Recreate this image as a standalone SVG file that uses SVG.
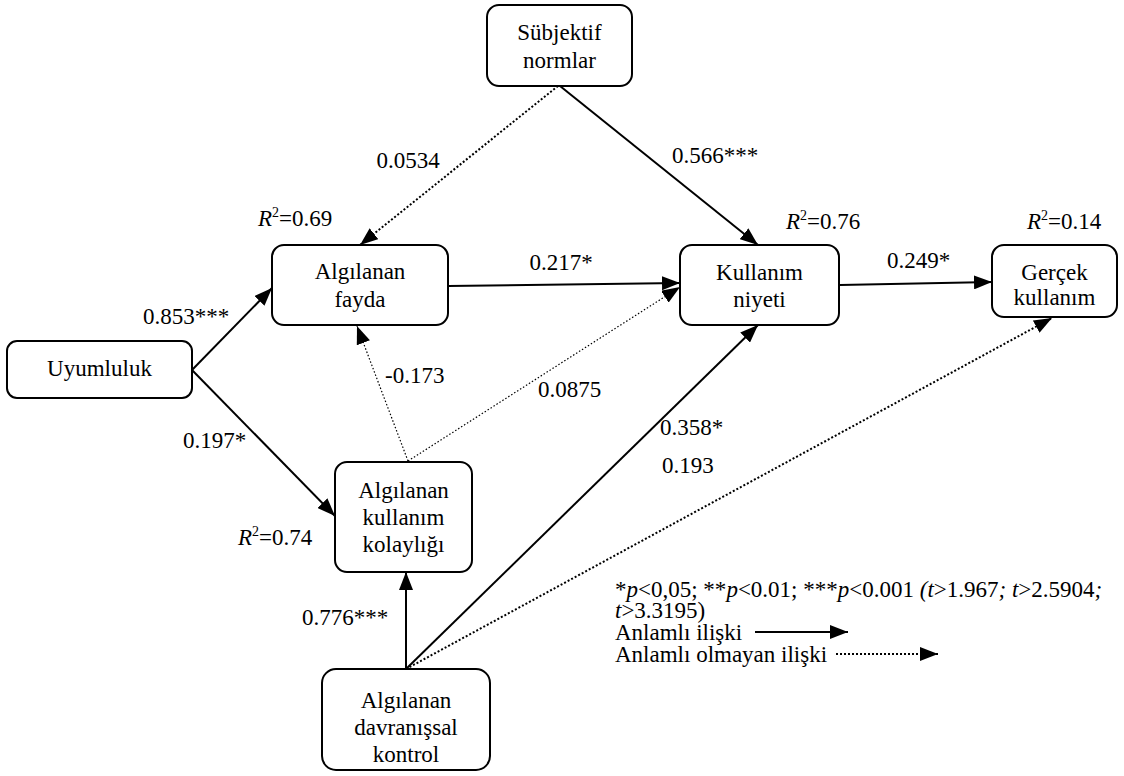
<svg xmlns="http://www.w3.org/2000/svg" width="1124" height="776" viewBox="0 0 1124 776">
<style>
.node rect{fill:#fff;stroke:#000;stroke-width:2}
.c{text-anchor:middle}
.sol{stroke:#000;stroke-width:2;fill:none}
.dot{stroke:#000;stroke-width:2;stroke-dasharray:2 2;fill:none}
.dotthin{stroke:#000;stroke-width:1.2;stroke-dasharray:1.5 2;fill:none}
.it{font-style:italic}
.sup{font-size:14px}
</style>
<defs>
<marker id="ah" markerUnits="userSpaceOnUse" markerWidth="18" markerHeight="14" viewBox="0 0 18 14" refX="18" refY="7" orient="auto">
<path d="M0,0 L18,7 L0,14 z" fill="#000"/>
</marker>
</defs>
<g id="connectors">
<line class="dot" x1="558" y1="86" x2="360" y2="245" marker-end="url(#ah)"/>
<line class="sol" x1="560" y1="86" x2="758" y2="245" marker-end="url(#ah)"/>
<line class="sol" x1="192" y1="370" x2="272" y2="288" marker-end="url(#ah)"/>
<line class="sol" x1="192" y1="370" x2="335" y2="516" marker-end="url(#ah)"/>
<line class="sol" x1="448" y1="286" x2="680" y2="283" marker-end="url(#ah)"/>
<line class="sol" x1="840" y1="285" x2="992" y2="282" marker-end="url(#ah)"/>
<line class="dotthin" x1="408" y1="461" x2="357" y2="326" marker-end="url(#ah)"/>
<line class="dotthin" x1="408" y1="461" x2="680" y2="287" marker-end="url(#ah)"/>
<line class="sol" x1="406" y1="669" x2="406" y2="572" marker-end="url(#ah)"/>
<line class="sol" x1="406" y1="669" x2="758" y2="325" marker-end="url(#ah)"/>
<line class="dot" x1="406" y1="669" x2="1052" y2="318" marker-end="url(#ah)"/>
<line class="sol" x1="755" y1="632" x2="848" y2="632" marker-end="url(#ah)"/>
<line class="dot" x1="836" y1="654" x2="938" y2="654" marker-end="url(#ah)"/>
</g>
<g id="sn" class="node"><rect x="487" y="5" width="145" height="81" rx="12"/><text class="c" x="559.5" y="40" style="font-family:'Liberation Serif',serif;font-size:23px">Sübjektif</text><text class="c" x="559.5" y="68" style="font-family:'Liberation Serif',serif;font-size:23px">normlar</text></g>
<g id="af" class="node"><rect x="272" y="245" width="176" height="80" rx="12"/><text class="c" x="360" y="279" style="font-family:'Liberation Serif',serif;font-size:23px">Algılanan</text><text class="c" x="360" y="307" style="font-family:'Liberation Serif',serif;font-size:23px">fayda</text></g>
<g id="kn" class="node"><rect x="680" y="245" width="159" height="80" rx="12"/><text class="c" x="759.5" y="280" style="font-family:'Liberation Serif',serif;font-size:23px">Kullanım</text><text class="c" x="759.5" y="307" style="font-family:'Liberation Serif',serif;font-size:23px">niyeti</text></g>
<g id="gk" class="node"><rect x="992" y="245" width="125" height="72" rx="12"/><text class="c" x="1054.5" y="280" style="font-family:'Liberation Serif',serif;font-size:23px">Gerçek</text><text class="c" x="1054.5" y="305" style="font-family:'Liberation Serif',serif;font-size:23px">kullanım</text></g>
<g id="uy" class="node"><rect x="7" y="341" width="185" height="57" rx="10"/><text class="c" x="99.5" y="376" style="font-family:'Liberation Serif',serif;font-size:23px">Uyumluluk</text></g>
<g id="akk" class="node"><rect x="335" y="462" width="137" height="110" rx="12"/><text class="c" x="403.5" y="498" style="font-family:'Liberation Serif',serif;font-size:23px">Algılanan</text><text class="c" x="403.5" y="525" style="font-family:'Liberation Serif',serif;font-size:23px">kullanım</text><text class="c" x="403.5" y="552" style="font-family:'Liberation Serif',serif;font-size:23px">kolaylığı</text></g>
<g id="adk" class="node"><rect x="322" y="669" width="168" height="101" rx="14"/><text class="c" x="406" y="708" style="font-family:'Liberation Serif',serif;font-size:23px">Algılanan</text><text class="c" x="406" y="735" style="font-family:'Liberation Serif',serif;font-size:23px">davranışsal</text><text class="c" x="406" y="762" style="font-family:'Liberation Serif',serif;font-size:23px">kontrol</text></g>
<g id="labels">
<text class="c" x="408" y="168" style="font-family:'Liberation Serif',serif;font-size:23px">0.0534</text>
<text class="c" x="715" y="163" style="font-family:'Liberation Serif',serif;font-size:23px">0.566***</text>
<text x="258" y="226" style="font-family:'Liberation Serif',serif;font-size:23px"><tspan class="it">R</tspan><tspan class="sup" dy="-9">2</tspan><tspan dy="9">=0.69</tspan></text>
<text class="c" x="561" y="270" style="font-family:'Liberation Serif',serif;font-size:23px">0.217*</text>
<text x="786" y="229" style="font-family:'Liberation Serif',serif;font-size:23px"><tspan class="it">R</tspan><tspan class="sup" dy="-9">2</tspan><tspan dy="9">=0.76</tspan></text>
<text x="1027" y="229" style="font-family:'Liberation Serif',serif;font-size:23px"><tspan class="it">R</tspan><tspan class="sup" dy="-9">2</tspan><tspan dy="9">=0.14</tspan></text>
<text x="887" y="268" style="font-family:'Liberation Serif',serif;font-size:23px">0.249*</text>
<text x="143" y="324" style="font-family:'Liberation Serif',serif;font-size:23px">0.853***</text>
<text x="385" y="383" style="font-family:'Liberation Serif',serif;font-size:23px">-0.173</text>
<text x="538" y="397" style="font-family:'Liberation Serif',serif;font-size:23px">0.0875</text>
<text x="660" y="435" style="font-family:'Liberation Serif',serif;font-size:23px">0.358*</text>
<text x="183" y="448" style="font-family:'Liberation Serif',serif;font-size:23px">0.197*</text>
<text x="662" y="473" style="font-family:'Liberation Serif',serif;font-size:23px">0.193</text>
<text x="238" y="545" style="font-family:'Liberation Serif',serif;font-size:23px"><tspan class="it">R</tspan><tspan class="sup" dy="-9">2</tspan><tspan dy="9">=0.74</tspan></text>
<text x="302" y="625" style="font-family:'Liberation Serif',serif;font-size:23px">0.776***</text>
</g>
<g id="legend">
<text x="615" y="597" style="font-family:'Liberation Serif',serif;font-size:23px">*<tspan class="it">p</tspan>&lt;0,05; **<tspan class="it">p</tspan>&lt;0.01; ***<tspan class="it">p</tspan>&lt;0.001 <tspan class="it">(t</tspan>&gt;1.967<tspan class="it">; t</tspan>&gt;2.5904<tspan class="it">;</tspan></text>
<text x="615" y="618" style="font-family:'Liberation Serif',serif;font-size:23px"><tspan class="it">t</tspan>&gt;3.3195)</text>
<text x="615" y="640" style="font-family:'Liberation Serif',serif;font-size:23px">Anlamlı ilişki</text>
<text x="615" y="662" style="font-family:'Liberation Serif',serif;font-size:23px">Anlamlı olmayan ilişki</text>
</g>
</svg>
